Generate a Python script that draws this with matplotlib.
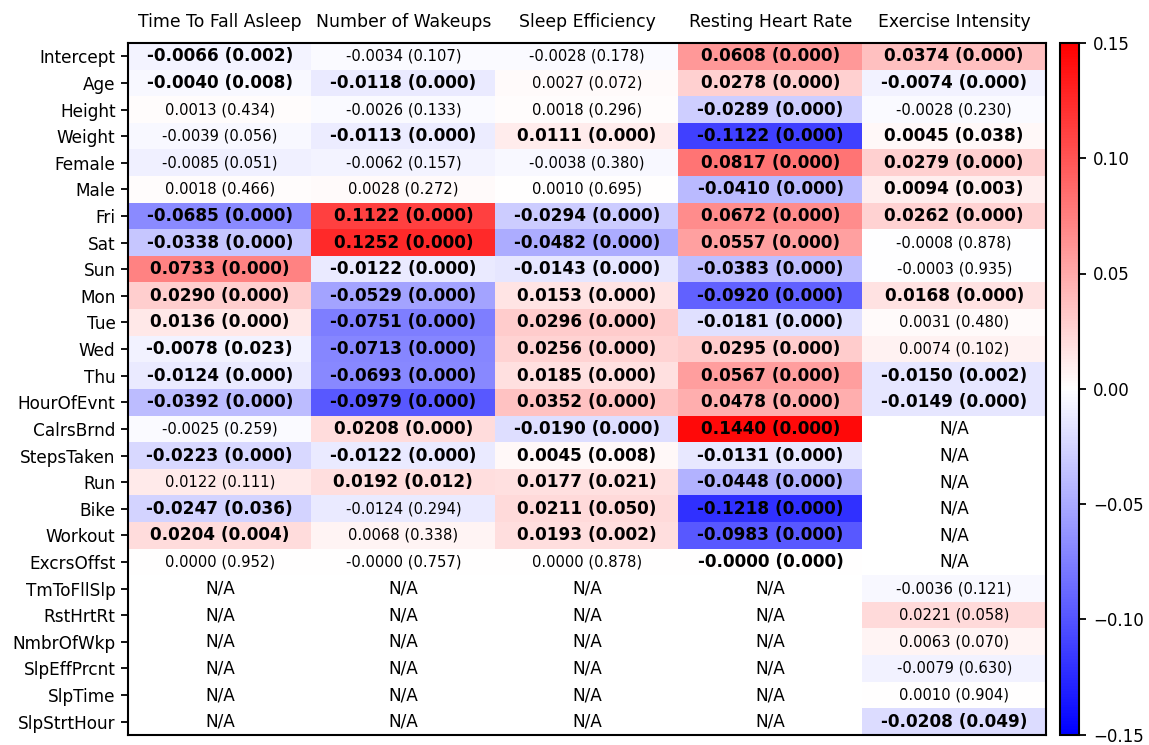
import numpy as np
import matplotlib
matplotlib.use("Agg")
import matplotlib.pyplot as plt

rows = ["Intercept", "Age", "Height", "Weight", "Female", "Male", "Fri", "Sat", "Sun",
        "Mon", "Tue", "Wed", "Thu", "HourOfEvnt", "CalrsBrnd", "StepsTaken", "Run", "Bike",
        "Workout", "ExcrsOffst", "TmToFllSlp", "RstHrtRt", "NmbrOfWkp", "SlpEffPrcnt",
        "SlpTime", "SlpStrtHour"]
cols = ["Time To Fall Asleep", "Number of Wakeups", "Sleep Efficiency",
        "Resting Heart Rate", "Exercise Intensity"]

na6 = [None] * 6

fall_asleep_coef = [-0.0066, -0.0040, 0.0013, -0.0039, -0.0085, 0.0018, -0.0685, -0.0338, 0.0733,
                    0.0290, 0.0136, -0.0078, -0.0124, -0.0392, -0.0025, -0.0223, 0.0122, -0.0247,
                    0.0204, 0.0000] + na6
fall_asleep_p = [0.002, 0.008, 0.434, 0.056, 0.051, 0.466, 0.000, 0.000, 0.000,
                 0.000, 0.000, 0.023, 0.000, 0.000, 0.259, 0.000, 0.111, 0.036,
                 0.004, 0.952] + na6

wakeups_coef = [-0.0034, -0.0118, -0.0026, -0.0113, -0.0062, 0.0028, 0.1122, 0.1252, -0.0122,
                -0.0529, -0.0751, -0.0713, -0.0693, -0.0979, 0.0208, -0.0122, 0.0192, -0.0124,
                0.0068, -0.0] + na6
wakeups_p = [0.107, 0.000, 0.133, 0.000, 0.157, 0.272, 0.000, 0.000, 0.000,
             0.000, 0.000, 0.000, 0.000, 0.000, 0.000, 0.000, 0.012, 0.294,
             0.338, 0.757] + na6

efficiency_coef = [-0.0028, 0.0027, 0.0018, 0.0111, -0.0038, 0.0010, -0.0294, -0.0482, -0.0143,
                   0.0153, 0.0296, 0.0256, 0.0185, 0.0352, -0.0190, 0.0045, 0.0177, 0.0211,
                   0.0193, 0.0000] + na6
efficiency_p = [0.178, 0.072, 0.296, 0.000, 0.380, 0.695, 0.000, 0.000, 0.000,
                0.000, 0.000, 0.000, 0.000, 0.000, 0.000, 0.008, 0.021, 0.050,
                0.002, 0.878] + na6

heart_coef = [0.0608, 0.0278, -0.0289, -0.1122, 0.0817, -0.0410, 0.0672, 0.0557, -0.0383,
              -0.0920, -0.0181, 0.0295, 0.0567, 0.0478, 0.1440, -0.0131, -0.0448, -0.1218,
              -0.0983, -0.0] + na6
heart_p = [0.000] * 20 + na6

intensity_coef = [0.0374, -0.0074, -0.0028, 0.0045, 0.0279, 0.0094, 0.0262, -0.0008, -0.0003,
                  0.0168, 0.0031, 0.0074, -0.0150, -0.0149] + na6 + \
                 [-0.0036, 0.0221, 0.0063, -0.0079, 0.0010, -0.0208]
intensity_p = [0.000, 0.000, 0.230, 0.038, 0.000, 0.003, 0.000, 0.878, 0.935,
               0.000, 0.480, 0.102, 0.002, 0.000] + na6 + \
              [0.121, 0.058, 0.070, 0.630, 0.904, 0.049]

coefs = [fall_asleep_coef, wakeups_coef, efficiency_coef, heart_coef, intensity_coef]
pvals = [fall_asleep_p, wakeups_p, efficiency_p, heart_p, intensity_p]

nr, nc = len(rows), len(cols)
grid = np.full((nr, nc), np.nan)
for j in range(nc):
    for i in range(nr):
        if coefs[j][i] is not None:
            grid[i, j] = coefs[j][i]

W, H = 1149, 745
fig = plt.figure(figsize=(W / 100, H / 100), dpi=100)
ax = fig.add_axes([128 / W, (H - 735) / H, (1046 - 128) / W, (735 - 43) / H])

cmap = plt.get_cmap("bwr").copy()
cmap.set_bad("white")
im = ax.imshow(np.ma.masked_invalid(grid), cmap=cmap, vmin=-0.15, vmax=0.15,
               aspect="auto", interpolation="nearest")

for i in range(nr):
    for j in range(nc):
        c, p = coefs[j][i], pvals[j][i]
        if c is None:
            ax.text(j, i, "N/A", ha="center", va="center", fontsize=12.2)
        elif p <= 0.05:
            ax.text(j, i, f"{c:.4f} ({p:.3f})", ha="center", va="center",
                    fontsize=12.2, fontweight="bold")
        else:
            ax.text(j, i, f"{c:.4f} ({p:.3f})", ha="center", va="center", fontsize=10.6)

ax.set_xticks(range(nc))
ax.set_xticklabels(cols, fontsize=12.4)
ax.xaxis.tick_top()
ax.tick_params(axis="x", length=0, pad=8.5)
ax.set_yticks(range(nr))
ax.set_yticklabels(rows, fontsize=12.2)
ax.tick_params(axis="y", length=5, width=1.3, pad=4)
for s in ax.spines.values():
    s.set_linewidth(1.5)

cax = fig.add_axes([1060 / W, (H - 734.5) / H, 19 / W, (734.5 - 43) / H])
cb = fig.colorbar(im, cax=cax, ticks=[-0.15, -0.10, -0.05, 0.00, 0.05, 0.10, 0.15])
cb.ax.tick_params(labelsize=12, length=5, width=1.3, pad=5)
cb.ax.yaxis.set_major_formatter(matplotlib.ticker.FuncFormatter(
    lambda v, _: f"{v:.2f}".replace("-", "\u2212")))
cb.outline.set_linewidth(1.5)

fig.savefig("out.png", dpi=100)
